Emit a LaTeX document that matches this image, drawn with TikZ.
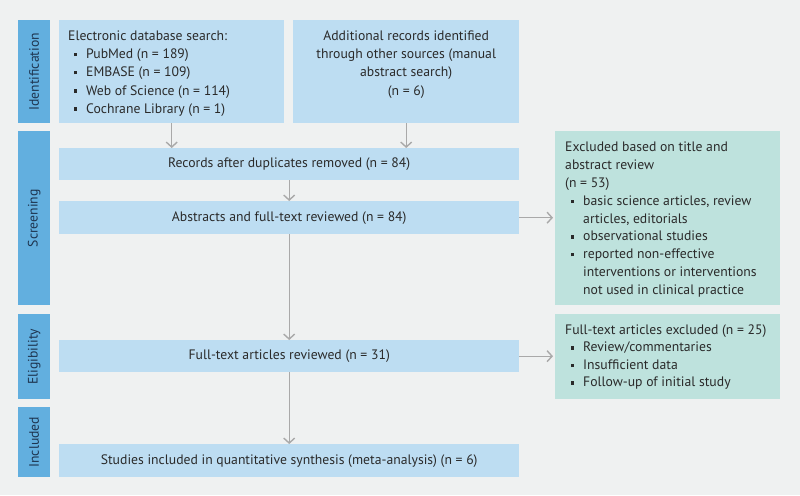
\documentclass[tikz,border=0pt]{standalone}
\usepackage{fontspec}
\setmainfont{PT Sans}
\usetikzlibrary{arrows.meta}
\definecolor{bg}{HTML}{EFF1F1}
\definecolor{side}{HTML}{62AFDF}
\definecolor{boxb}{HTML}{BDDDF2}
\definecolor{boxg}{HTML}{BEE2DD}
\definecolor{arr}{HTML}{A9A9A9}
\definecolor{txt}{HTML}{2A2A2A}
\definecolor{sidetxt}{HTML}{1E3550}
\newcommand{\bul}{\makebox[18pt][l]{\hspace{5.5pt}\raisebox{2.4pt}{\rule{3.4pt}{3.4pt}}}}
\newcommand{\bcont}{\hspace*{18pt}}
\begin{document}
\begin{tikzpicture}[x=1pt,y=-1pt,
  sidebar/.style={fill=side, draw=none, minimum width=32pt, anchor=north west, inner sep=0pt},
  sidelab/.style={rotate=90, text=sidetxt, font=\fontsize{13.7}{15}\selectfont, inner sep=0pt},
  bbox/.style={fill=boxb, draw=none, anchor=north west, inner sep=0pt, text=txt, font=\fontsize{13.7}{18}\selectfont},
  gbox/.style={fill=boxg, draw=none, anchor=north west, inner sep=0pt},
  txtn/.style={text=txt, font=\fontsize{13.7}{18.2}\selectfont, inner sep=0pt},
  flow/.style={draw=arr, line width=1.4pt, -{Straight Barb[length=5pt, width=11pt, line width=1.4pt]}},
]
\fill[bg] (0,0) rectangle (800,495);
\useasboundingbox (0,0) rectangle (800,495);
% side bars
\node[sidebar, minimum height=103pt] (sid) at (18,20) {};
\node[sidebar, minimum height=174pt] (sscr) at (18,131) {};
\node[sidebar, minimum height=85pt] (selig) at (18,314) {};
\node[sidebar, minimum height=70pt] (sinc) at (18,407) {};
\node[sidelab] (lid) at (sid.center) {Identification};
\node[sidelab] (lscr) at (sscr.center) {Screening};
\node[sidelab] (lelig) at (selig.center) {Eligibility};
\node[sidelab] (linc) at (sinc.center) {Included};
% boxes
\node[bbox, minimum width=225pt, minimum height=103pt] (db) at (59,20) {};
\node[txtn, anchor=north west, align=left] (dbt) at (68,30.5) {Electronic database search:\\
\bul PubMed (n = 189)\\
\bul EMBASE (n = 109)\\
\bul Web of Science (n = 114)\\
\bul Cochrane Library (n = 1)};
\node[bbox, minimum width=226pt, minimum height=103pt] (add) at (293,20) {};
\node[txtn, anchor=north, align=center] (addt) at ([yshift=-10.5pt]add.north) {Additional records identified\\
through other sources (manual\\
abstract search)\\
(n = 6)};
\node[bbox, minimum width=460pt, minimum height=32pt] (rec) at (59,148) {Records after duplicates removed (n = 84)};
\node[bbox, minimum width=460pt, minimum height=33pt] (abs) at (59,201) {Abstracts and full-text reviewed (n = 84)};
\node[bbox, minimum width=460pt, minimum height=32pt] (ft) at (59,340) {Full-text articles reviewed (n = 31)};
\node[bbox, minimum width=460pt, minimum height=33pt] (inc) at (59,444) {Studies included in quantitative synthesis (meta-analysis) (n = 6)};
\node[gbox, minimum width=225pt, minimum height=174pt] (ex1) at (555,131) {};
\node[txtn, anchor=north west, align=left, font=\fontsize{13.7}{17.8}\selectfont] (ex1t) at (565,142) {Excluded based on title and\\
abstract review\\
(n = 53)\\
\bul basic science articles, review\\
\bcont articles, editorials\\
\bul observational studies\\
\bul reported non-effective\\
\bcont interventions or interventions\\
\bcont not used in clinical practice};
\node[gbox, minimum width=225pt, minimum height=85pt] (ex2) at (555,314) {};
\node[txtn, anchor=north west, align=left, font=\fontsize{13.7}{17.5}\selectfont] (ex2t) at (565,324.5) {Full-text articles excluded (n = 25)\\
\bul Review/commentaries\\
\bul Insufficient data\\
\bul Follow-up of initial study};
% connectors
\draw[flow] (db.south) -- (db.south |- rec.north);
\draw[flow] (add.south) -- (add.south |- rec.north);
\draw[flow] (rec.south) -- (abs.north);
\draw[flow] (abs.south) -- (ft.north);
\draw[flow] (ft.south) -- (inc.north);
\draw[flow] (abs.east) -- ([xshift=-2pt]abs.east -| ex1.west);
\draw[flow] (ft.east) -- ([xshift=-2pt]ft.east -| ex2.west);
\end{tikzpicture}
\end{document}
